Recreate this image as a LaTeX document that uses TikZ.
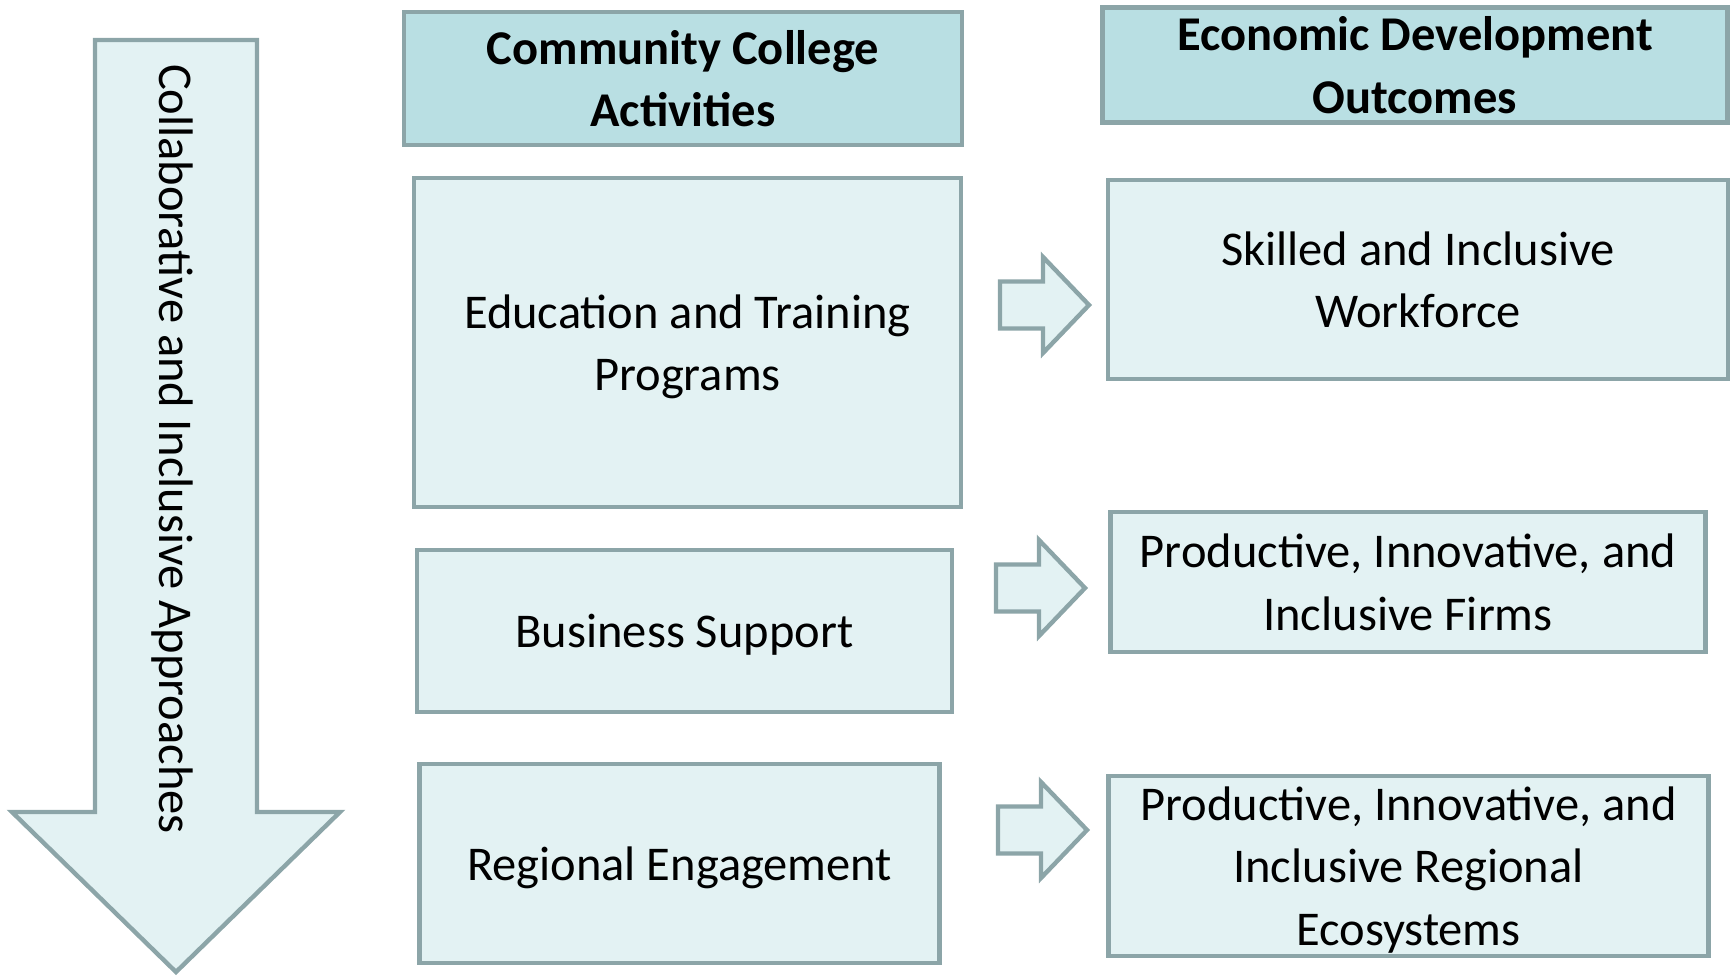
\documentclass[tikz,border=0pt]{standalone}
\usepackage{fontspec}
\setmainfont{Carlito}
\usepackage{xcolor}
\usetikzlibrary{positioning}
\definecolor{edgegray}{HTML}{8CA5A8}
\definecolor{boxfill}{HTML}{E3F2F3}
\definecolor{headfill}{HTML}{B9DFE3}
\tikzset{
	every node/.style={font=\fontsize{27.6}{35.5}\selectfont, align=center},
	header/.style={draw=edgegray, fill=headfill, line width=2.5pt, inner sep=0pt, font=\fontsize{27.6}{35.5}\selectfont\bfseries},
	activity/.style={draw=edgegray, fill=boxfill, line width=2.5pt, inner sep=0pt, text depth=0pt},
	outcome/.style={draw=edgegray, fill=boxfill, line width=2.5pt, inner sep=0pt, text depth=0pt},
	blockarrow/.style={draw=edgegray, fill=boxfill, line width=2.5pt, line join=miter},
}

\begin{document}
\begin{tikzpicture}
		\useasboundingbox (0,0) rectangle (34.7,-19.54);
		
		% big arrow on the left
		\draw[blockarrow] (1.9,-0.8) -- (5.14,-0.8) -- (5.14,-16.24) -- (6.8,-16.24) -- (3.52,-19.44) -- (0.24,-16.24) -- (1.9,-16.24) -- cycle;
		\node[rotate=-90] (approach) at (3.44,-8.98) {Collaborative and Inclusive Approaches};
		
		% headers
		\node[header, minimum width=11.15cm, minimum height=2.65cm] (colhead) at (13.66,-1.57) {Community College\\Activities};
		\node[header, minimum width=12.5cm, minimum height=2.3cm] (ecohead) at (28.3,-1.3) {Economic Development\\Outcomes};
		
		% activities
		\node[activity, minimum width=10.93cm, minimum height=6.57cm] (edu) at (13.75,-6.85) {Education and Training\\Programs};
		\node[activity, minimum width=10.7cm, minimum height=3.23cm] (business) at (13.69,-12.62) {Business Support};
		\node[activity, minimum width=10.4cm, minimum height=3.97cm] (regional) at (13.59,-17.27) {Regional Engagement};
		
		% outcomes
		\node[outcome, minimum width=12.4cm, minimum height=3.97cm] (workforce) at (28.36,-5.59) {Skilled and Inclusive\\Workforce};
		\node[outcome, minimum width=11.9cm, minimum height=2.8cm] (firms) at (28.16,-11.64) {Productive, Innovative, and\\Inclusive Firms};
		\node[outcome, minimum width=12.0cm, minimum height=3.6cm] (ecosys) at (28.17,-17.32) {Productive, Innovative, and\\Inclusive Regional\\Ecosystems};
		
		% small arrows
		\coordinate (a1) at (20.0,-6.1);
		\coordinate (a2) at (19.92,-11.76);
		\coordinate (a3) at (19.96,-16.6);
		\foreach \a in {a1,a2,a3}{
			\draw[blockarrow] (\a) ++(0,0.47) -- ++(0.86,0) -- ++(0,0.49) -- ++(0.92,-0.96) -- ++(-0.92,-0.96) -- ++(0,0.49) -- ++(-0.86,0) -- cycle;
		}
	\end{tikzpicture}
\end{document}
